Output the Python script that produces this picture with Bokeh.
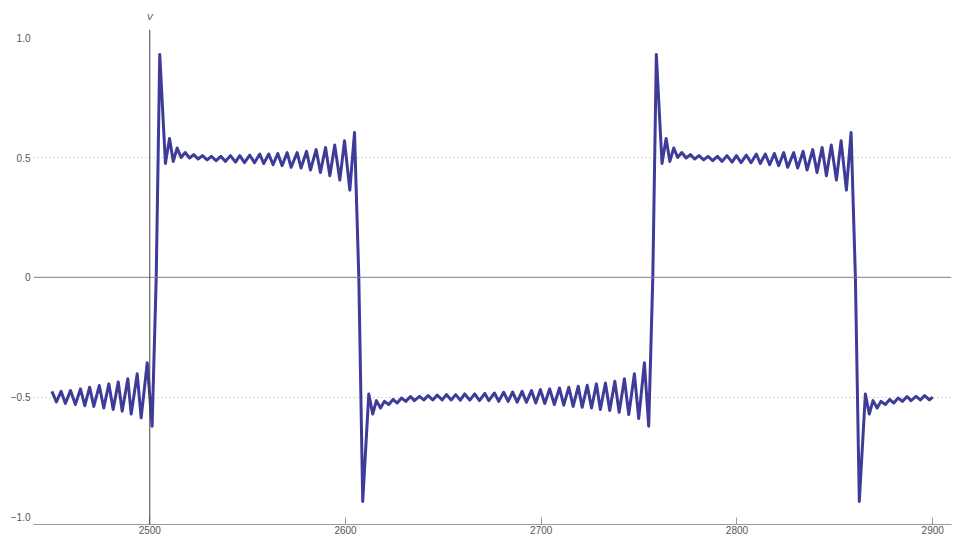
from bokeh.plotting import figure
from bokeh.models import Span, FixedTicker, Range1d, LinearAxis
from bokeh.embed import file_html
from bokeh.resources import INLINE

# ---- data (x in time units, v in volts) ----
# tail of a low phase before the first rising edge
t_tail = [2450.0, 2452.3, 2454.7, 2456.9, 2459.5, 2462.0, 2464.6, 2466.8, 2469.3, 2471.4,
          2474.2, 2476.5, 2479.1, 2481.3, 2483.9, 2485.9, 2488.8, 2490.5, 2493.6, 2495.6,
          2498.7, 2501.2, 2503.3]
v_tail = [-0.476, -0.520, -0.476, -0.527, -0.473, -0.531, -0.466, -0.536, -0.459, -0.539,
          -0.452, -0.546, -0.445, -0.552, -0.437, -0.559, -0.424, -0.571, -0.403, -0.587,
          -0.357, -0.622, 0.000]

# first high phase (with falling edge)
t_high1 = [2505.1, 2508.0, 2510.1, 2512.0, 2514.0, 2516.0, 2518.1, 2520.3, 2522.5, 2524.7,
           2526.9, 2529.3, 2531.5, 2533.9, 2536.3, 2538.7, 2541.2, 2543.8, 2546.0, 2548.4,
           2551.1, 2553.5, 2556.2, 2558.2, 2560.8, 2563.0, 2565.4, 2567.6, 2570.2, 2572.2,
           2575.3, 2577.3, 2580.1, 2582.1, 2585.0, 2587.2, 2589.8, 2592.0, 2594.5, 2597.1,
           2599.5, 2602.2, 2604.6, 2606.8]
v_high1 = [0.930, 0.475, 0.580, 0.484, 0.540, 0.500, 0.521, 0.498, 0.512, 0.494,
           0.508, 0.490, 0.505, 0.487, 0.505, 0.484, 0.508, 0.481, 0.508, 0.479,
           0.510, 0.478, 0.515, 0.475, 0.515, 0.470, 0.517, 0.466, 0.521, 0.459,
           0.521, 0.456, 0.526, 0.448, 0.533, 0.438, 0.542, 0.424, 0.552, 0.406,
           0.570, 0.364, 0.605, 0.000]

# first low phase (with rising edge)
t_low1 = [2608.8, 2611.9, 2613.9, 2615.8, 2617.9, 2619.9, 2622.1, 2624.3, 2626.4, 2628.6,
          2630.8, 2633.2, 2635.2, 2637.8, 2640.0, 2642.2, 2644.6, 2646.8, 2649.4, 2651.6,
          2654.0, 2656.3, 2658.7, 2660.9, 2663.5, 2666.0, 2668.4, 2671.2, 2673.2, 2676.1,
          2678.3, 2680.8, 2683.1, 2685.4, 2687.7, 2690.2, 2692.4, 2695.0, 2697.2, 2699.6,
          2701.8, 2704.3, 2706.7, 2709.3, 2711.5, 2714.1, 2716.3, 2718.9, 2720.9, 2723.5,
          2725.7, 2728.2, 2730.2, 2732.8, 2735.0, 2737.6, 2739.8, 2742.5, 2744.7, 2747.6,
          2749.8, 2752.7, 2754.9, 2757.0]
v_low1 = [-0.936, -0.487, -0.571, -0.515, -0.546, -0.518, -0.531, -0.510, -0.525, -0.504,
          -0.518, -0.498, -0.515, -0.497, -0.512, -0.494, -0.512, -0.492, -0.512, -0.490,
          -0.512, -0.490, -0.513, -0.487, -0.513, -0.487, -0.515, -0.485, -0.515, -0.483,
          -0.518, -0.480, -0.518, -0.479, -0.521, -0.476, -0.522, -0.473, -0.525, -0.469,
          -0.527, -0.466, -0.531, -0.462, -0.534, -0.459, -0.539, -0.455, -0.543, -0.451,
          -0.546, -0.445, -0.552, -0.441, -0.556, -0.434, -0.564, -0.424, -0.573, -0.403,
          -0.590, -0.357, -0.622, 0.000]

# second high phase (with falling edge)
t_high2 = [2758.8, 2761.7, 2763.8, 2765.7, 2767.7, 2769.7, 2771.8, 2774.0, 2776.2, 2778.4,
           2780.6, 2783.0, 2785.2, 2787.6, 2790.0, 2792.4, 2794.9, 2797.5, 2799.7, 2802.1,
           2804.8, 2807.2, 2809.9, 2811.9, 2814.5, 2816.7, 2819.1, 2821.3, 2823.9, 2825.9,
           2829.0, 2831.0, 2833.8, 2835.8, 2838.7, 2840.9, 2843.5, 2845.7, 2848.2, 2850.8,
           2853.2, 2855.9, 2858.3, 2860.5]
v_high2 = [0.930, 0.475, 0.580, 0.484, 0.540, 0.500, 0.521, 0.498, 0.512, 0.494,
           0.508, 0.490, 0.505, 0.487, 0.505, 0.484, 0.508, 0.481, 0.508, 0.479,
           0.510, 0.478, 0.515, 0.475, 0.515, 0.470, 0.517, 0.466, 0.521, 0.459,
           0.521, 0.456, 0.526, 0.448, 0.533, 0.438, 0.542, 0.424, 0.552, 0.406,
           0.570, 0.364, 0.605, 0.000]

# start of the second low phase
t_low2 = [2862.5, 2865.6, 2867.6, 2869.5, 2871.6, 2873.6, 2875.8, 2878.0, 2880.1, 2882.3,
          2884.5, 2886.9, 2888.9, 2891.5, 2893.7, 2895.9, 2898.3, 2900.0]
v_low2 = [-0.936, -0.487, -0.571, -0.515, -0.546, -0.518, -0.531, -0.510, -0.525, -0.504,
          -0.518, -0.498, -0.515, -0.497, -0.512, -0.494, -0.512, -0.500]

x_ticks = [2500, 2600, 2700, 2800, 2900]
y_ticks = [-1.0, -0.5, 0.0, 0.5, 1.0]
y_tick_labels = ["\u22121.0", "\u22120.5", "0", "0.5", "1.0"]
grid_levels = [-0.5, 0.5]
axis_name = "V"
axis_name_at = 2500

t_all = t_tail + t_high1 + t_low1 + t_high2 + t_low2
v_all = v_tail + v_high1 + v_low1 + v_high2 + v_low2

p = figure(width=957, height=536, output_backend="svg", toolbar_location=None,
           x_range=Range1d(2440.6, 2909.6), y_range=Range1d(-1.0322, 1.0347),
           min_border_left=33, min_border_right=6, min_border_top=29, min_border_bottom=0)
p.outline_line_color = None
p.background_fill_color = "white"
p.border_fill_color = "white"

p.xgrid.visible = False
p.ygrid.ticker = FixedTicker(ticks=grid_levels)
p.ygrid.grid_line_color = "#b0b0b0"
p.ygrid.grid_line_dash = "1 3"
p.ygrid.grid_line_width = 1

p.xaxis.ticker = FixedTicker(ticks=x_ticks)
p.xaxis.axis_line_color = "#9a9a9a"
p.xaxis.major_tick_line_color = "#9a9a9a"
p.xaxis.major_tick_in = 7
p.xaxis.major_tick_out = 0
p.xaxis.minor_tick_line_color = None
p.xaxis.major_label_text_font = "Liberation Sans"
p.xaxis.major_label_text_font_size = "10px"
p.xaxis.major_label_text_color = "#555555"
p.xaxis.major_label_standoff = 1

p.yaxis.ticker = FixedTicker(ticks=y_ticks)
p.yaxis.major_label_overrides = {t: s for t, s in zip(y_ticks, y_tick_labels)}
p.yaxis.axis_line_color = None
p.yaxis.major_tick_line_color = None
p.yaxis.major_tick_out = 0
p.yaxis.major_tick_in = 0
p.yaxis.minor_tick_line_color = None
p.yaxis.major_label_text_font = "Liberation Sans"
p.yaxis.major_label_text_font_size = "10px"
p.yaxis.major_label_text_color = "#555555"
p.yaxis.major_label_standoff = 3

# axis name "V" above the vertical axis line
top_axis = LinearAxis(ticker=FixedTicker(ticks=[axis_name_at]),
                      major_label_overrides={axis_name_at: axis_name})
top_axis.axis_line_color = None
top_axis.major_tick_line_color = None
top_axis.major_tick_out = 0
top_axis.major_tick_in = 0
top_axis.minor_tick_line_color = None
top_axis.major_label_standoff = 8
top_axis.major_label_text_font = "Liberation Sans"
top_axis.major_label_text_font_size = "9px"
top_axis.major_label_text_font_style = "italic"
top_axis.major_label_text_color = "#444444"
p.add_layout(top_axis, "above")

p.add_layout(Span(location=0, dimension="width", line_color="#808080", line_width=1))
p.add_layout(Span(location=2500, dimension="height", line_color="#404040", line_width=1))

p.line(t_all, v_all, line_color="#3f3c99", line_width=3, line_join="round")

open("out.html", "w").write(file_html(p, INLINE))
